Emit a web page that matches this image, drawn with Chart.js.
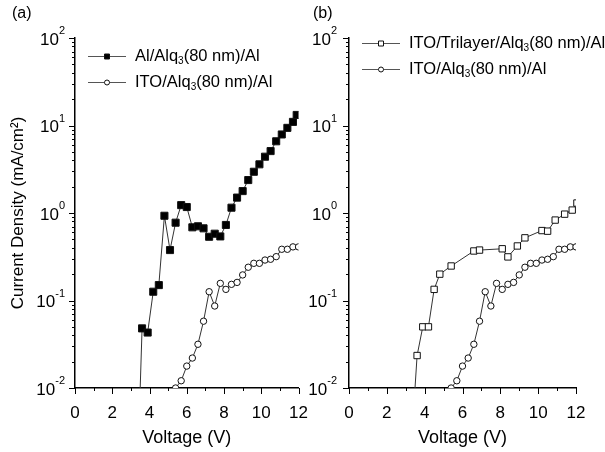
<!DOCTYPE html>
<html>
<head>
<meta charset="utf-8">
<script src="https://cdn.jsdelivr.net/npm/chart.js@4.4.1/dist/chart.umd.min.js"></script>
<style>
  html, body { margin: 0; padding: 0; background: #fff; }
  #sahne { position: relative; width: 605px; height: 452px; overflow: hidden; }
  #chartA { position: absolute; left: 0; top: 0; }
  #chartB { position: absolute; left: 300px; top: 0; }
</style>
</head>
<body>
<div id="sahne">
  <canvas id="chartA" width="315" height="452"></canvas>
  <canvas id="chartB" width="305" height="452"></canvas>
</div>
<script>
/*VERILER*/
var xTicks = [0, 2, 4, 6, 8, 10, 12];
var yExponents = [-2, -1, 0, 1, 2];

var alName = 'Al/Alq₃(80 nm)/Al';
var alVoltage = [3.3, 3.6, 3.9, 4.2, 4.5, 4.8, 5.1, 5.4, 5.7, 6.0, 6.3, 6.6, 6.9, 7.2, 7.5, 7.8, 8.1, 8.4, 8.7, 9.0, 9.3, 9.6, 9.9, 10.2, 10.5, 10.8, 11.1, 11.4, 11.7, 11.9];
var alDensity = [0.00044, 0.048, 0.043, 0.126, 0.150, 0.93, 0.377, 0.775, 1.23, 1.17, 0.686, 0.705, 0.668, 0.535, 0.58, 0.54, 0.73, 1.15, 1.5, 1.78, 2.38, 2.96, 3.6, 4.4, 5.1, 6.6, 7.9, 9.4, 11.0, 13.2];

var itoName = 'ITO/Alq₃(80 nm)/Al';
var itoVoltage = [5.4, 5.7, 6.0, 6.3, 6.6, 6.9, 7.2, 7.5, 7.8, 8.1, 8.4, 8.7, 9.0, 9.3, 9.6, 9.9, 10.2, 10.5, 10.8, 11.1, 11.4, 11.7, 12.0];
var itoDensity = [0.0100, 0.0121, 0.0178, 0.022, 0.0316, 0.058, 0.126, 0.0865, 0.157, 0.134, 0.153, 0.161, 0.196, 0.24, 0.266, 0.266, 0.29, 0.296, 0.317, 0.385, 0.385, 0.41, 0.41];

var trilayerName = 'ITO/Trilayer/Alq₃(80 nm)/Al';
var trilayerVoltage = [3.3, 3.6, 3.9, 4.2, 4.5, 4.8, 5.4, 6.6, 6.9, 8.1, 8.4, 8.9, 9.3, 10.2, 10.5, 10.9, 11.4, 11.8, 12.05];
var trilayerDensity = [0.0023, 0.0235, 0.050, 0.050, 0.134, 0.20, 0.248, 0.368, 0.377, 0.39, 0.315, 0.42, 0.52, 0.63, 0.62, 0.83, 0.97, 1.08, 1.3];
/*VERILER*/

var yaziTipi = "'Liberation Sans', Arial, sans-serif";
Chart.defaults.font.family = yaziTipi;
Chart.defaults.color = '#000';

function noktalar(v, j) {
  var sonuc = [];
  for (var i = 0; i < v.length; i++) {
    sonuc.push({x: v[i], y: j[i]});
  }
  return sonuc;
}

function seri(ad, v, j, sekil, dolgu, yaricap) {
  return {
    label: ad,
    data: noktalar(v, j),
    borderColor: '#333',
    borderWidth: 1,
    pointStyle: sekil,
    pointRadius: yaricap,
    pointHoverRadius: yaricap,
    pointBackgroundColor: dolgu,
    pointBorderColor: '#111',
    pointBorderWidth: 1,
    tension: 0
  };
}

/* alt indisli yazi (Alq3) */
function indisliYaz(ctx, metin, x, y, boyut) {
  var parcalar = metin.split('₃');
  ctx.textAlign = 'left';
  ctx.textBaseline = 'middle';
  for (var k = 0; k < parcalar.length; k++) {
    ctx.font = boyut + 'px ' + yaziTipi;
    ctx.fillText(parcalar[k], x, y);
    x += ctx.measureText(parcalar[k]).width;
    if (k < parcalar.length - 1) {
      ctx.font = Math.round(boyut * 0.62) + 'px ' + yaziTipi;
      ctx.fillText('3', x, y + 5);
      x += ctx.measureText('3').width;
    }
  }
}

var panelPlugin = {
  id: 'panel',
  afterDraw: function (chart, args, opt) {
    var ctx = chart.ctx;
    var xs = chart.scales.x;
    var ys = chart.scales.y;
    ctx.save();
    ctx.strokeStyle = '#000';
    ctx.fillStyle = '#000';
    ctx.lineWidth = 1;

    /*X CENTIKLERI*/
    for (var v = 0; v <= 12; v++) {
      var px = Math.round(xs.getPixelForValue(v)) + 0.5;
      var boy = (v % 2 === 0) ? 6 : 3;
      ctx.beginPath();
      ctx.moveTo(px, ys.bottom);
      ctx.lineTo(px, ys.bottom + boy);
      ctx.stroke();
    }

    /*Y CENTIKLERI*/
    for (var e = yExponents[0]; e <= yExponents[yExponents.length - 1]; e++) {
      for (var m = 1; m <= 9; m++) {
        if (e === yExponents[yExponents.length - 1] && m > 1) break;
        var py = Math.round(ys.getPixelForValue(m * Math.pow(10, e))) + 0.5;
        var uz = (m === 1) ? 6 : 3;
        ctx.beginPath();
        ctx.moveTo(xs.left, py);
        ctx.lineTo(xs.left - uz, py);
        ctx.stroke();
      }
    }

    /*Y ETIKETLERI*/
    var sag = xs.left - opt.etiketBosluk;
    yExponents.forEach(function (us) {
      var yy = ys.getPixelForValue(Math.pow(10, us));
      var ustYazi = String(us);
      ctx.font = '11px ' + yaziTipi;
      var w = ctx.measureText(ustYazi).width;
      ctx.textAlign = 'left';
      ctx.textBaseline = 'middle';
      ctx.fillText(ustYazi, sag - w, yy - 7);
      ctx.font = '17px ' + yaziTipi;
      ctx.textAlign = 'right';
      ctx.fillText('10', sag - w, yy + 2);
    });

    /*PANEL HARFI*/
    ctx.font = '16px ' + yaziTipi;
    ctx.textAlign = 'left';
    ctx.textBaseline = 'middle';
    ctx.fillText(opt.harf, opt.harfX, 14);

    /*LEJANT*/
    var ds = chart.data.datasets;
    for (var i = 0; i < ds.length; i++) {
      var ly = opt.lejantY + i * 26;
      var lx = opt.lejantX;
      ctx.strokeStyle = '#555';
      ctx.beginPath();
      ctx.moveTo(lx, ly + 0.5);
      ctx.lineTo(lx + 38, ly + 0.5);
      ctx.stroke();
      ctx.strokeStyle = '#111';
      ctx.fillStyle = ds[i].pointBackgroundColor;
      ctx.beginPath();
      if (ds[i].pointStyle === 'circle') {
        ctx.arc(lx + 19, ly + 0.5, 2.5, 0, Math.PI * 2);
      } else {
        ctx.rect(lx + 16.5, ly - 2, 5, 5);
      }
      ctx.fill();
      ctx.stroke();
      ctx.fillStyle = '#000';
      indisliYaz(ctx, ds[i].label, lx + 47, ly, 16.5);
    }
    ctx.restore();
  }
};

function eksenler(yBaslik, yGenislik) {
  return {
    x: {
      type: 'linear',
      min: 0,
      max: 12,
      grid: {display: false},
      border: {display: true, color: '#000', width: 1.5},
      ticks: {stepSize: 2, autoSkip: false, padding: 7, font: {size: 17}, color: '#000'},
      title: {display: true, text: 'Voltage (V)', font: {size: 18}, padding: {top: 0, bottom: 3}},
      afterFit: function (s) { s.height = 64; }
    },
    y: {
      type: 'logarithmic',
      min: 0.01,
      max: 100,
      grid: {display: false},
      border: {display: true, color: '#000', width: 1.5},
      ticks: {display: false},
      title: {display: yBaslik !== '', text: yBaslik, font: {size: 17}, padding: {top: 8, bottom: 0}},
      afterFit: function (s) { s.width = yGenislik; }
    }
  };
}

function grafikCiz(id, datasets, yBaslik, yGenislik, sagBosluk, panelAyar) {
  return new Chart(document.getElementById(id), {
    type: 'line',
    data: {datasets: datasets},
    options: {
      responsive: false,
      animation: false,
      layout: {padding: {left: 0, right: sagBosluk, top: 38, bottom: 0}},
      scales: eksenler(yBaslik, yGenislik),
      plugins: {
        legend: {display: false},
        tooltip: {enabled: false},
        panel: panelAyar
      }
    },
    plugins: [panelPlugin]
  });
}

grafikCiz('chartA', [
  seri(alName, alVoltage, alDensity, 'rect', '#000', 5),
  seri(itoName, itoVoltage, itoDensity, 'circle', '#fff', 3.2)
], 'Current Density (mA/cm²)', 75, 13, {harf: '(a)', harfX: 12, etiketBosluk: 10, lejantX: 88, lejantY: 56});

grafikCiz('chartB', [
  seri(trilayerName, trilayerVoltage, trilayerDensity, 'rect', '#fff', 4.5),
  seri(itoName, itoVoltage, itoDensity, 'circle', '#fff', 3.2)
], '', 49, 29, {harf: '(b)', harfX: 13, etiketBosluk: 12, lejantX: 62, lejantY: 43});
</script>
</body>
</html>
